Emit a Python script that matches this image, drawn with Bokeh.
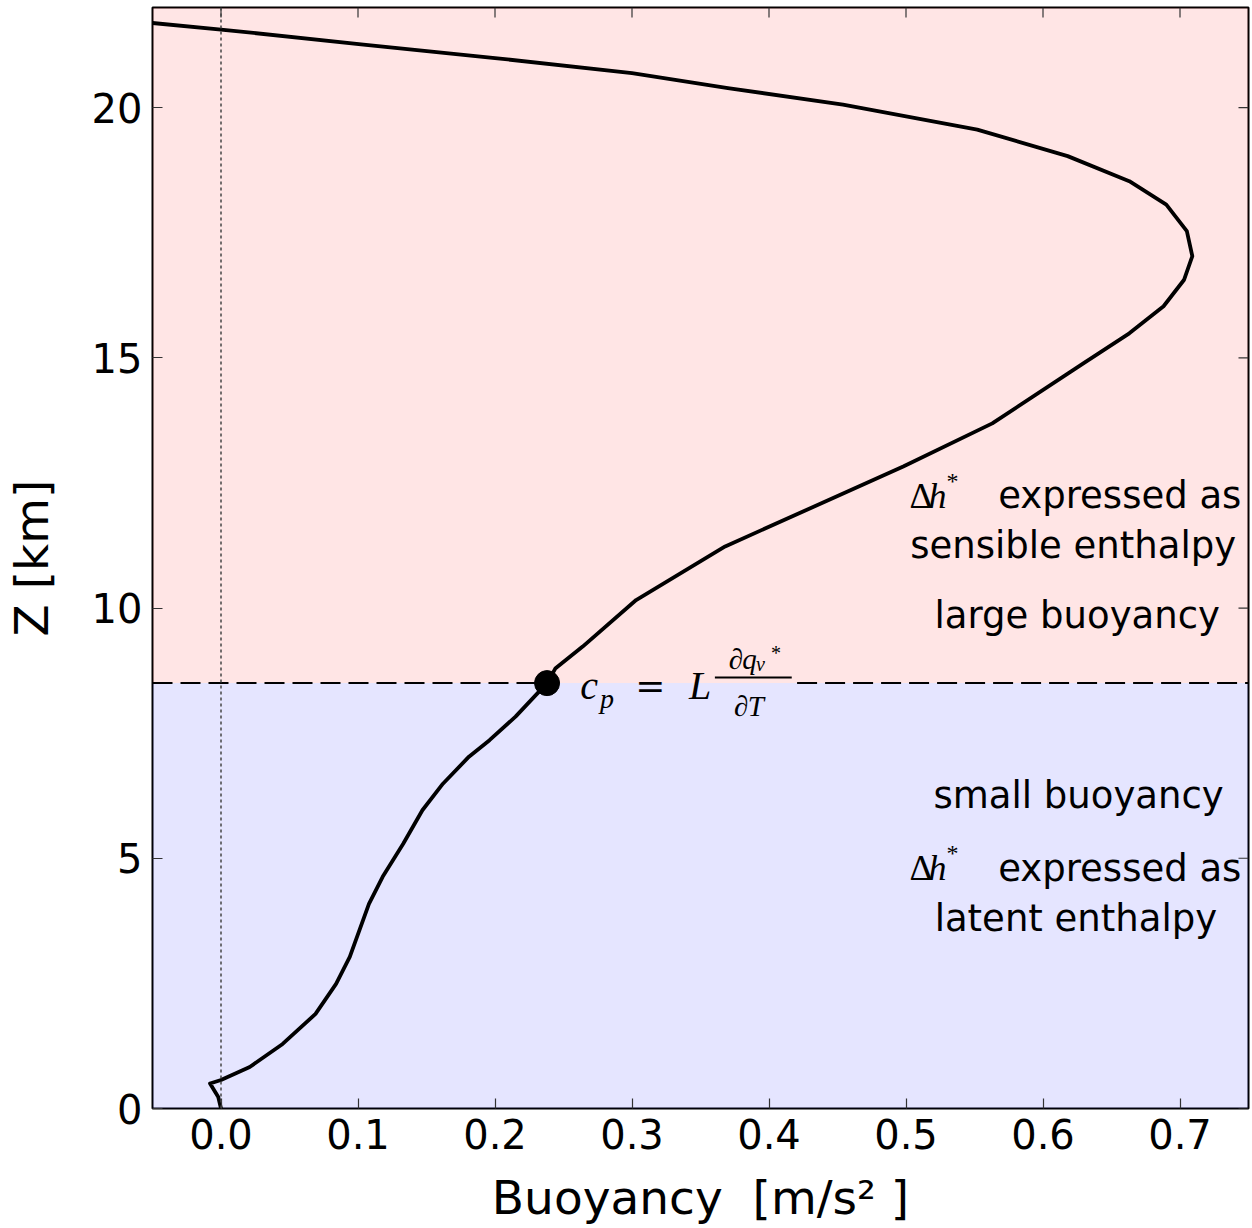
import math
from bokeh.plotting import figure
from bokeh.models import Label, BoxAnnotation, FixedTicker, Span, Range1d
from bokeh.embed import file_html
from bokeh.resources import INLINE

# ---- data ----
z_km = [0.0, 0.23, 0.5, 0.57, 0.83, 1.29, 1.89, 2.49, 3.03, 3.56, 4.09, 4.63,
        5.29, 5.96, 6.49, 7.03, 7.36, 7.83, 8.5, 8.79, 9.23, 10.16, 11.23,
        12.03, 12.83, 13.69, 14.9, 15.49, 16.03, 16.56, 17.03, 17.53, 18.06,
        18.53, 19.03, 19.56, 20.06, 20.39, 20.69, 20.99, 21.26, 21.56, 21.69]
buoyancy = [0.0, -0.002, -0.008, 0.0, 0.021, 0.045, 0.069, 0.084, 0.094, 0.101,
            0.108, 0.118, 0.133, 0.147, 0.162, 0.181, 0.196, 0.215, 0.238,
            0.244, 0.264, 0.303, 0.368, 0.433, 0.498, 0.563, 0.630, 0.663,
            0.688, 0.703, 0.709, 0.705, 0.690, 0.663, 0.618, 0.552, 0.454,
            0.370, 0.300, 0.200, 0.104, 0.0, -0.05]

threshold_z = 8.5
threshold_b = 0.238

x_ticks = [0.0, 0.1, 0.2, 0.3, 0.4, 0.5, 0.6, 0.7]
x_tick_labels = ["0.0", "0.1", "0.2", "0.3", "0.4", "0.5", "0.6", "0.7"]
y_ticks = [0, 5, 10, 15, 20]
y_tick_labels = ["0", "5", "10", "15", "20"]

X_MIN, X_MAX = -0.05, 0.75
Y_MIN, Y_MAX = 0, 22

SANS = "DejaVu Sans"
SERIF = "Liberation Serif"

p = figure(width=1252, height=1228,
           x_range=Range1d(X_MIN, X_MAX), y_range=Range1d(Y_MIN, Y_MAX),
           output_backend="svg", toolbar_location=None,
           min_border_left=149, min_border_right=4,
           min_border_top=7, min_border_bottom=120)
p.grid.visible = False
p.background_fill_color = "white"
p.outline_line_color = "black"
p.outline_line_width = 2

# shaded regions
p.add_layout(BoxAnnotation(bottom=threshold_z, fill_color="#ff0000", fill_alpha=0.1,
                           line_color=None, level="underlay"))
p.add_layout(BoxAnnotation(top=threshold_z, fill_color="#0000ff", fill_alpha=0.1,
                           line_color=None, level="underlay"))

# zero line
p.add_layout(Span(location=0, dimension="height", line_color="#444444",
                  line_width=1.5, line_dash="3 3"))

# dashed threshold line (gap left for the formula)
p.line([X_MIN, threshold_b], [threshold_z, threshold_z], line_color="black",
       line_width=2, line_dash="20 8")
p.line([0.4205, X_MAX], [threshold_z, threshold_z], line_color="black",
       line_width=2, line_dash="20 8")

# profile
p.line(buoyancy, z_km, line_color="black", line_width=3.8, line_join="round")
p.scatter([threshold_b], [threshold_z], size=25, color="black")

# axes
def style_axis(ax):
    ax.major_tick_in = 10
    ax.major_tick_out = 0
    ax.minor_tick_line_color = None
    ax.major_tick_line_color = "#333333"
    ax.major_tick_line_width = 1.2
    ax.axis_line_color = None
    ax.major_label_text_font = SANS
    ax.major_label_text_font_size = "40px"
    ax.major_label_text_color = "black"
    ax.major_label_standoff = 10
    ax.axis_label_text_font = SANS
    ax.axis_label_text_font_style = "normal"
    ax.axis_label_text_font_size = "47px"
    ax.axis_label_text_color = "black"

xa = p.xaxis[0]
xa.ticker = FixedTicker(ticks=x_ticks)
xa.major_label_overrides = dict(zip(x_ticks, x_tick_labels))
xa.axis_label = "Buoyancy \u00a0[m/s\u00b2\u00a0]"
style_axis(xa)
xa.axis_label_standoff = 18

ya = p.yaxis[0]
ya.ticker = FixedTicker(ticks=y_ticks)
ya.major_label_overrides = dict(zip(y_ticks, y_tick_labels))
ya.axis_label = "Z [km]"
style_axis(ya)
ya.axis_label_standoff = 30

# inward ticks on the top and right frame edges
p.ray(x=x_ticks, y=[Y_MAX] * len(x_ticks), length=10, length_units="screen",
      angle=-math.pi / 2, line_color="#333333", line_width=1.2)
p.ray(x=[X_MAX] * len(y_ticks), y=y_ticks, length=10, length_units="screen",
      angle=math.pi, line_color="#333333", line_width=1.2)

# ---- annotations ----
DY = 0.24

def lab(x, y, text, font=SANS, size=37, style="normal", align="left"):
    p.add_layout(Label(x=x, y=y + DY, text=text, text_font=font,
                       text_font_size=f"{size}px", text_font_style=style,
                       text_align=align, text_baseline="alphabetic",
                       text_color="black"))

# upper region
lab(0.5025, 12.0, "\u0394", font=SERIF, size=36)
lab(0.5165, 12.0, "h", font=SERIF, size=36, style="italic")
lab(0.5295, 12.3, "*", font=SERIF, size=24)
lab(0.5673, 12.0, "expressed as")
lab(0.6220, 11.01, "sensible enthalpy", align="center")
lab(0.6250, 9.61, "large buoyancy", align="center")

# lower region
lab(0.6260, 6.01, "small buoyancy", align="center")
lab(0.5025, 4.56, "\u0394", font=SERIF, size=36)
lab(0.5165, 4.56, "h", font=SERIF, size=36, style="italic")
lab(0.5295, 4.86, "*", font=SERIF, size=24)
lab(0.5673, 4.56, "expressed as")
lab(0.6240, 3.56, "latent enthalpy", align="center")

# formula c_p = L dq_v*/dT
lab(0.2623, 8.212, "c", font=SERIF, size=40, style="italic")
lab(0.2766, 7.952, "p", font=SERIF, size=28, style="italic")
lab(0.3023, 8.212, "=", font="DejaVu Serif", size=36)
lab(0.3416, 8.212, "L", font=SERIF, size=40, style="italic")
p.line([0.3605, 0.4166], [8.372 + DY, 8.372 + DY], line_color="black", line_width=2)
lab(0.3707, 8.751, "\u2202", font=SERIF, size=29)
lab(0.3805, 8.751, "q", font=SERIF, size=29, style="italic")
lab(0.3905, 8.651, "v", font=SERIF, size=20, style="italic")
lab(0.4015, 8.871, "*", font=SERIF, size=20)
lab(0.3745, 7.812, "\u2202", font=SERIF, size=29)
lab(0.3845, 7.812, "T", font=SERIF, size=29, style="italic")

open("out.html", "w").write(file_html(p, INLINE))
